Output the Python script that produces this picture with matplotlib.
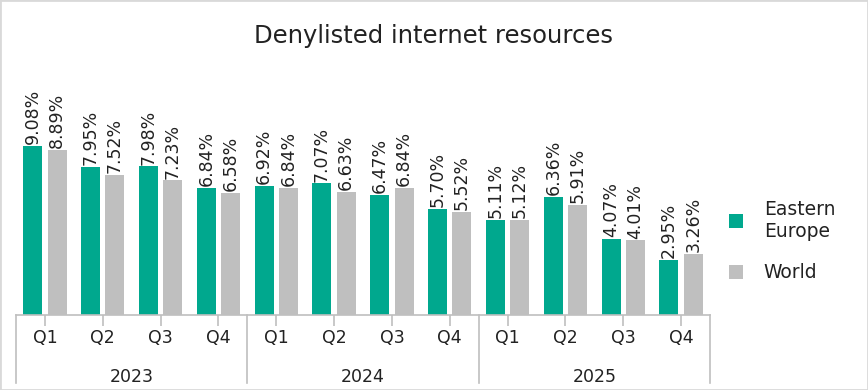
import matplotlib.pyplot as plt
from matplotlib.patches import Rectangle
import numpy as np

years = ['2023', '2024', '2025']
quarters = ['Q1', 'Q2', 'Q3', 'Q4']
eastern_europe = [9.08, 7.95, 7.98, 6.84, 6.92, 7.07, 6.47, 5.70, 5.11, 6.36, 4.07, 2.95]
world = [8.89, 7.52, 7.23, 6.58, 6.84, 6.63, 6.84, 5.52, 5.12, 5.91, 4.01, 3.26]

green = '#00A88E'
grey = '#BFBFBF'
line_col = '#BFBFBF'

W, H = 868, 390
fig = plt.figure(figsize=(W / 100, H / 100), dpi=100)

# Achse in Pixelkoordinaten platzieren
left, right, bottom, top = 16, 710, 315, 60
ax = fig.add_axes([left / W, 1 - bottom / H, (right - left) / W, (bottom - top) / H])

n = len(eastern_europe)
x = np.arange(n)
bw = 0.33
off = 0.21
ax.bar(x - off, eastern_europe, width=bw, color=green, label='Eastern\nEurope')
ax.bar(x + off, world, width=bw, color=grey, label='World')

for xi, v in zip(x, eastern_europe):
    ax.text(xi - off, v + 0.1, f'{v:.2f}%', rotation=90, ha='center', va='bottom',
            fontsize=12.5, color='#222222')
for xi, v in zip(x, world):
    ax.text(xi + off, v + 0.1, f'{v:.2f}%', rotation=90, ha='center', va='bottom',
            fontsize=12.5, color='#222222')

ax.set_xlim(-0.5, n - 0.5)
ax.set_ylim(0, 9.08 * (bottom - top) / (bottom - 146))

for s in ['top', 'right', 'left']:
    ax.spines[s].set_visible(False)
ax.spines['bottom'].set_color(line_col)
ax.spines['bottom'].set_linewidth(1.2)
ax.set_yticks([])
ax.set_xticks(x)
ax.set_xticklabels(quarters * len(years), fontsize=12.5, color='#222222')
ax.tick_params(axis='x', length=8, width=1.2, color=line_col, pad=2)

# Jahresgruppen mit Trennlinien
sep_len = 68 / (bottom - top)
for k in range(len(years) + 1):
    xb = k * 4 - 0.5
    ax.plot([xb, xb], [0, -sep_len], transform=ax.get_xaxis_transform(),
            color=line_col, lw=1.2, clip_on=False)
for k, yr in enumerate(years):
    ax.text(k * 4 + 1.5, -62 / (bottom - top), yr, transform=ax.get_xaxis_transform(),
            ha='center', va='center', fontsize=12.5, color='#222222')

fig.text(0.5, 1 - 36 / H, 'Denylisted internet resources', ha='center', va='center',
         fontsize=17.5, color='#222222')

ax.legend(loc='center left', bbox_to_anchor=(1.003, 0.29), frameon=False, fontsize=13.5,
          handlelength=0.75, handleheight=0.75, labelspacing=1.2, handletextpad=1.1,
          labelcolor='#222222')

fig.add_artist(Rectangle((0, 0), 1, 1, transform=fig.transFigure, fill=False,
                         edgecolor='#D9D9D9', lw=2))

plt.savefig('out.png', dpi=100)
plt.close()
